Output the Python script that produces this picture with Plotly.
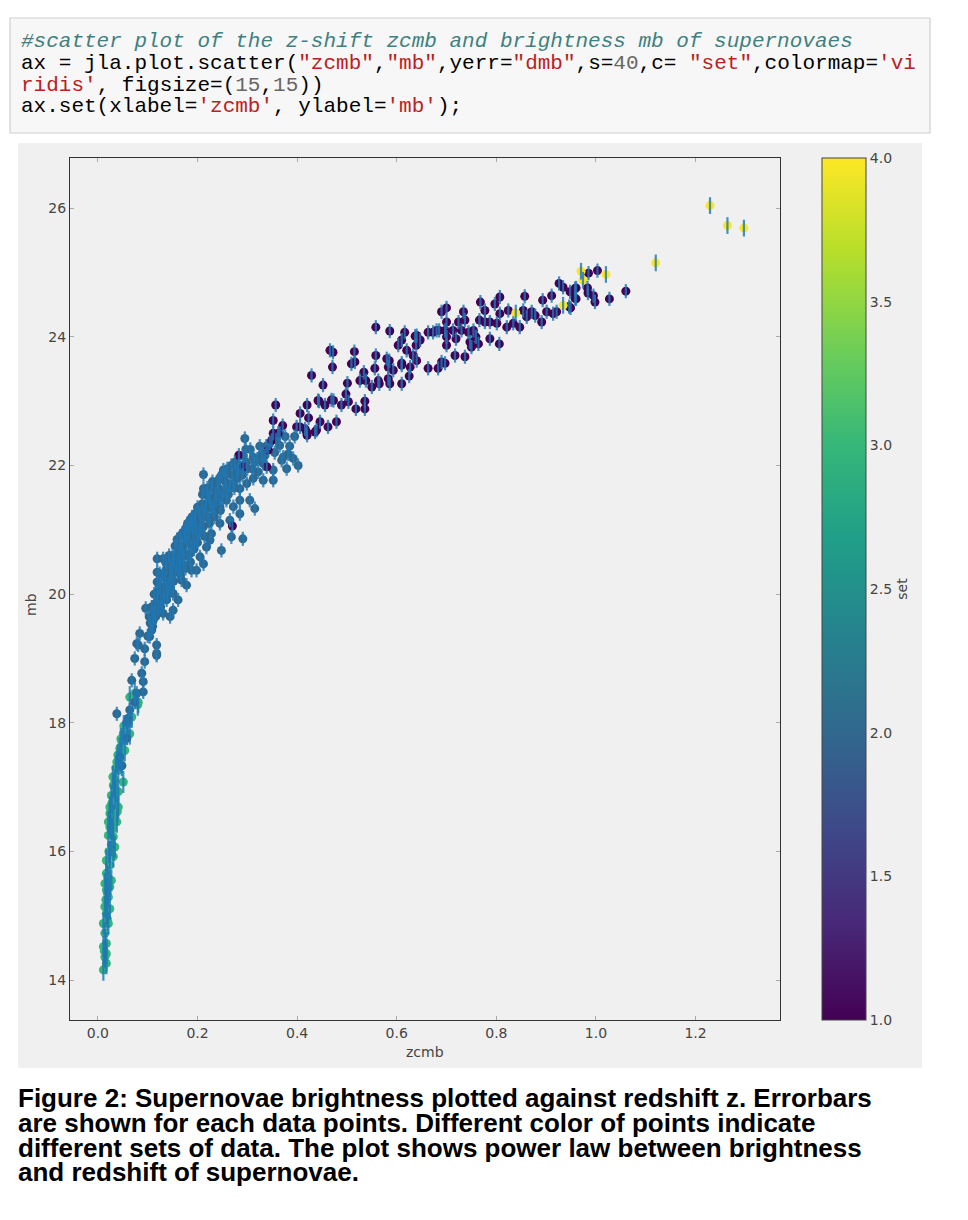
import plotly.graph_objects as go

# ---------------- data ----------------
# set 3 : low-z sample (green)
pts_set3 = [
    (0.011, 14.16), (0.014, 14.36), (0.011, 14.52), (0.017, 14.57), (0.014, 14.73),
    (0.021, 14.88), (0.011, 14.88), (0.017, 15.04), (0.024, 15.11), (0.014, 15.14),
    (0.021, 15.29), (0.017, 15.40), (0.027, 15.55), (0.014, 15.50), (0.017, 15.66),
    (0.024, 15.79), (0.017, 15.86), (0.031, 15.92), (0.024, 15.99), (0.027, 16.10),
    (0.031, 16.23), (0.021, 16.25), (0.024, 16.38), (0.038, 16.46), (0.021, 16.46),
    (0.031, 16.56), (0.024, 16.69), (0.041, 16.69), (0.034, 16.82), (0.027, 16.87),
    (0.041, 16.93), (0.031, 17.03), (0.051, 17.08), (0.030, 17.16), (0.041, 17.26),
    (0.038, 17.39), (0.044, 17.42), (0.044, 17.60), (0.054, 17.57), (0.048, 17.70),
    (0.058, 17.83), (0.064, 17.83), (0.051, 17.83), (0.061, 17.99), (0.068, 18.09),
    (0.081, 18.32), (0.074, 18.46), (0.017, 14.26), (0.017, 14.41), (0.024, 15.45),
    (0.034, 16.07), (0.039, 16.62), (0.024, 16.59), (0.034, 17.11), (0.048, 17.34),
    (0.064, 18.40), (0.080, 18.28), (0.013, 14.45), (0.019, 14.95), (0.016, 15.25),
    (0.020, 15.60), (0.022, 16.00), (0.026, 16.40), (0.028, 16.75), (0.033, 17.00),
    (0.036, 17.30), (0.040, 17.50), (0.046, 17.75), (0.052, 17.95), (0.019, 15.35),
    (0.029, 16.35), (0.036, 16.95),
]
dmb_set3 = 0.17

# set 2 : SDSS sample (blue)
pts_set2 = [
    (0.295, 22.42), (0.297, 22.25), (0.312, 22.13), (0.329, 22.18), (0.332, 22.03),
    (0.376, 22.45), (0.365, 22.31), (0.382, 22.18), (0.392, 22.11), (0.402, 22.00),
    (0.369, 22.08), (0.352, 21.93), (0.252, 21.93), (0.279, 21.90), (0.322, 21.90),
    (0.372, 22.13), (0.379, 21.95), (0.352, 21.77), (0.244, 21.80), (0.212, 21.86),
    (0.212, 21.64), (0.222, 21.51), (0.258, 21.64), (0.272, 21.72), (0.285, 21.64),
    (0.299, 21.72), (0.312, 21.80), (0.332, 21.77), (0.315, 21.33), (0.305, 21.46),
    (0.285, 21.46), (0.272, 21.36), (0.258, 21.46), (0.245, 21.36), (0.232, 21.30),
    (0.285, 21.25), (0.265, 21.15), (0.245, 21.10), (0.268, 20.89), (0.291, 20.86),
    (0.248, 20.68), (0.228, 20.94), (0.212, 21.23), (0.195, 21.15), (0.178, 21.04),
    (0.175, 20.89), (0.168, 20.73), (0.198, 20.84), (0.218, 20.73), (0.205, 20.58),
    (0.185, 20.63), (0.188, 20.37), (0.165, 20.42), (0.151, 20.53), (0.119, 20.55),
    (0.131, 20.55), (0.119, 20.34), (0.145, 20.32), (0.168, 20.22), (0.119, 20.19),
    (0.138, 20.14), (0.151, 20.01), (0.119, 20.03), (0.138, 19.91), (0.151, 19.75),
    (0.131, 19.70), (0.096, 19.78), (0.111, 19.59), (0.108, 19.44), (0.084, 19.39),
    (0.078, 19.23), (0.094, 19.15), (0.074, 19.00), (0.094, 18.95), (0.118, 19.05),
    (0.068, 18.66), (0.091, 18.64), (0.078, 18.46), (0.165, 20.76), (0.178, 20.99),
    (0.188, 21.07), (0.225, 20.84), (0.212, 20.47), (0.198, 20.37), (0.178, 20.14),
    (0.161, 19.91), (0.145, 19.65), (0.124, 20.32), (0.121, 19.78), (0.104, 19.34),
    (0.118, 19.21), (0.118, 19.08), (0.081, 19.21), (0.088, 18.77), (0.091, 18.48),
    (0.038, 18.14), (0.064, 18.20), (0.074, 18.32), (0.058, 18.01), (0.048, 17.33),
    (0.044, 17.47), (0.061, 18.07), (0.058, 17.76),
    (0.105, 19.55), (0.112, 19.70), (0.115, 19.85), (0.120, 19.95), (0.125, 20.10),
    (0.128, 19.90), (0.132, 20.05), (0.135, 20.25), (0.138, 20.40), (0.142, 20.15),
    (0.145, 20.45), (0.148, 20.30), (0.150, 20.60), (0.152, 20.20), (0.155, 20.75),
    (0.158, 20.45), (0.160, 20.65), (0.162, 20.35), (0.165, 20.90), (0.168, 20.55),
    (0.170, 20.70), (0.172, 20.45), (0.175, 21.00), (0.178, 20.80), (0.180, 20.60),
    (0.183, 20.95), (0.185, 21.15), (0.188, 20.75), (0.190, 21.05), (0.192, 20.90),
    (0.195, 21.25), (0.198, 21.00), (0.200, 21.35), (0.203, 20.95), (0.206, 21.15),
    (0.209, 21.40), (0.212, 21.05), (0.215, 21.30), (0.218, 21.55), (0.221, 21.20),
    (0.225, 21.45), (0.228, 21.65), (0.232, 21.35), (0.236, 21.55), (0.240, 21.75),
    (0.244, 21.50), (0.248, 21.85), (0.252, 21.60), (0.256, 21.75), (0.260, 21.95),
    (0.265, 21.70), (0.270, 21.85), (0.275, 22.05), (0.280, 21.80), (0.286, 22.00),
    (0.292, 22.15), (0.300, 21.95), (0.306, 22.25), (0.315, 22.05), (0.325, 22.30),
    (0.335, 22.15), (0.345, 22.35), (0.355, 22.20), (0.365, 22.50), (0.385, 22.30),
    (0.395, 22.45),
    (0.100, 19.35), (0.103, 19.65), (0.108, 19.80), (0.110, 19.50), (0.113, 20.00),
    (0.116, 19.65), (0.122, 20.15), (0.126, 19.80), (0.130, 20.30), (0.133, 19.95),
    (0.136, 20.50), (0.140, 20.00), (0.143, 20.60), (0.146, 20.10), (0.149, 20.40),
    (0.153, 20.55), (0.156, 20.35), (0.159, 20.85), (0.163, 20.55), (0.166, 20.30),
    (0.170, 20.95), (0.173, 20.60), (0.176, 20.40), (0.180, 21.10), (0.182, 20.85),
    (0.186, 20.50), (0.189, 21.20), (0.193, 20.70), (0.196, 21.05), (0.200, 20.80),
    (0.204, 21.25), (0.207, 21.00), (0.210, 21.55), (0.214, 20.90), (0.217, 21.40),
    (0.220, 21.65), (0.224, 21.10), (0.227, 21.35), (0.230, 21.75), (0.234, 21.20),
    (0.238, 21.45), (0.242, 21.65), (0.246, 21.30), (0.250, 21.50), (0.255, 21.85),
    (0.262, 21.55), (0.268, 22.00), (0.274, 21.65), (0.282, 21.95), (0.290, 21.85),
    (0.298, 22.05), (0.310, 21.95), (0.320, 22.10), (0.338, 22.30), (0.358, 22.40),
]
dmb_set2 = 0.11

# set 1 : SNLS sample (dark purple)
pts_set1 = [
    (0.616, 24.07), (0.610, 23.95), (0.637, 24.01), (0.647, 23.95), (0.639, 23.87),
    (0.620, 23.79), (0.633, 23.71), (0.610, 23.59), (0.640, 23.63), (0.627, 23.53),
    (0.625, 23.39), (0.663, 23.51), (0.683, 23.51), (0.690, 23.61), (0.697, 23.59),
    (0.663, 24.07), (0.673, 24.07), (0.685, 24.10), (0.697, 24.10), (0.700, 24.23),
    (0.690, 24.39), (0.700, 24.45), (0.700, 24.00), (0.700, 23.87), (0.717, 23.71),
    (0.719, 23.97), (0.724, 24.23), (0.734, 24.39), (0.737, 24.26), (0.730, 24.10),
    (0.737, 23.69), (0.744, 24.07), (0.747, 23.92), (0.750, 23.84), (0.754, 24.10),
    (0.759, 24.00), (0.766, 24.26), (0.768, 24.54), (0.777, 24.41), (0.764, 23.89),
    (0.787, 23.97), (0.787, 24.23), (0.797, 24.51), (0.807, 24.62), (0.801, 24.21),
    (0.806, 23.89), (0.807, 24.36), (0.821, 24.15), (0.824, 24.41), (0.834, 24.21),
    (0.847, 24.15), (0.857, 24.63), (0.854, 24.41), (0.861, 24.31), (0.871, 24.39),
    (0.878, 24.33), (0.891, 24.23), (0.893, 24.57), (0.901, 24.39), (0.911, 24.64),
    (0.914, 24.36), (0.926, 24.83), (0.934, 24.77), (0.921, 24.39), (0.948, 24.70),
    (0.949, 24.45), (0.960, 24.76), (0.960, 24.59), (0.985, 24.99), (1.003, 25.03),
    (0.983, 24.76), (0.995, 24.64), (0.998, 24.54), (1.027, 24.59), (0.680, 24.10),
    (0.713, 24.10), (0.777, 24.23), (1.060, 24.71), (0.984, 24.68), (0.958, 24.75),
    (0.958, 24.60), (0.946, 24.47),
    (0.558, 24.15), (0.586, 24.09), (0.640, 24.02), (0.603, 23.87), (0.466, 23.79),
    (0.472, 23.76), (0.515, 23.77), (0.471, 23.53), (0.509, 23.58), (0.516, 23.61),
    (0.558, 23.71), (0.580, 23.66), (0.583, 23.53), (0.593, 23.48), (0.610, 23.56),
    (0.556, 23.51), (0.534, 23.45), (0.526, 23.32), (0.538, 23.32), (0.550, 23.22),
    (0.565, 23.27), (0.586, 23.27), (0.610, 23.27), (0.501, 23.28), (0.429, 23.40),
    (0.452, 23.25), (0.498, 23.11), (0.536, 23.00), (0.518, 22.88), (0.536, 22.88),
    (0.503, 22.99), (0.489, 22.94), (0.473, 23.01), (0.456, 22.94), (0.444, 23.00),
    (0.420, 22.94), (0.406, 22.81), (0.423, 22.74), (0.446, 22.68), (0.479, 22.68),
    (0.406, 22.60), (0.420, 22.47), (0.439, 22.55), (0.462, 22.60), (0.357, 22.94),
    (0.352, 22.70), (0.371, 22.62), (0.352, 22.50), (0.349, 22.39), (0.362, 22.50),
    (0.342, 22.24), (0.283, 22.16), (0.292, 21.98), (0.339, 21.98), (0.585, 23.63),
    (0.563, 23.32), (0.583, 23.35), (0.416, 22.57), (0.469, 23.02), (0.442, 23.01),
    (0.399, 22.60), (0.419, 22.52), (0.436, 22.52), (0.270, 21.06),
]
dmb_set1 = 0.11

# set 4 : HST sample (yellow)
pts_set4 = [
    (0.839, 24.37), (0.934, 24.49), (0.970, 25.02), (0.974, 24.88), (1.020, 24.97),
    (1.120, 25.15), (1.229, 26.04), (1.264, 25.73), (1.297, 25.69),
]
dmb_set4 = 0.13

x_ticks = [0.0, 0.2, 0.4, 0.6, 0.8, 1.0, 1.2]
y_ticks = [14, 16, 18, 20, 22, 24, 26]
cb_ticks = [1.0, 1.5, 2.0, 2.5, 3.0, 3.5, 4.0]

# ---------------- assemble ----------------
groups = [(3, pts_set3, dmb_set3), (2, pts_set2, dmb_set2),
          (1, pts_set1, dmb_set1), (4, pts_set4, dmb_set4)]
zs, mbs, sets, errs = [], [], [], []
for s_, pts, d in groups:
    for z, m in pts:
        zs.append(z)
        mbs.append(m)
        sets.append(s_)
        errs.append(d)

# page has an 8px body margin: work in page pixels, convert to figure pixels
OFF = 8
W, H = 968 - 2 * OFF, 1220 - 2 * OFF
L, R, T, B = 70, 780, 158, 1020   # plot area, page pixels


def px(xp):
    return (xp - L) / (R - L)


def py(yp):
    return (B - yp) / (B - T)


fig = go.Figure()
fig.add_trace(go.Scatter(
    x=zs, y=mbs, mode="markers", showlegend=False, hoverinfo="skip",
    marker=dict(
        size=9, color=sets, colorscale="Viridis", cmin=1, cmax=4,
        line=dict(width=0),
        colorbar=dict(
            x=px(822), xanchor="left", xpad=0, ypad=0,
            y=0.5, yanchor="middle", len=1, lenmode="fraction",
            thickness=44, thicknessmode="pixels",
            outlinewidth=1, outlinecolor="#444444",
            tickmode="array", tickvals=cb_ticks,
            ticktext=[f"{v:.1f}" for v in cb_ticks],
            ticks="", tickfont=dict(family="DejaVu Sans", size=14, color="#444444"),
            title=dict(text="set", side="right",
                       font=dict(family="DejaVu Sans", size=14, color="#444444")),
        ),
    ),
))
fig.add_trace(go.Scatter(
    x=zs, y=mbs, mode="markers", showlegend=False, hoverinfo="skip",
    marker=dict(size=1, opacity=0),
    error_y=dict(type="data", array=errs, visible=True, width=0,
                 thickness=2.2, color="rgba(31,119,180,0.82)"),
))

axis_common = dict(
    showline=True, linecolor="#333333", linewidth=1, mirror="allticks",
    ticks="inside", ticklen=4, tickcolor="#aaaaaa", tickwidth=1,
    showgrid=False, zeroline=False,
    tickfont=dict(family="DejaVu Sans", size=14, color="#444444"),
)
fig.update_xaxes(range=[-0.056, 1.3695], tickmode="array", tickvals=x_ticks,
                 ticktext=[f"{v:.1f}" for v in x_ticks], **axis_common)
fig.update_yaxes(range=[13.38, 26.78], tickmode="array", tickvals=y_ticks,
                 ticktext=[str(v) for v in y_ticks], **axis_common)

shapes = [
    # figure (matplotlib) background
    dict(type="rect", xref="paper", yref="paper", layer="below",
         x0=px(18), x1=px(922), y0=py(1068), y1=py(143),
         fillcolor="#f0f0f0", line=dict(width=0)),
    # code cell
    dict(type="rect", xref="paper", yref="paper", layer="below",
         x0=px(10), x1=px(930), y0=py(133), y1=py(18),
         fillcolor="#f7f7f7", line=dict(width=1.2, color="#cfcfcf")),
]

C_COM = "#408080"
C_STR = "#ba2121"
C_NUM = "#666666"
C_TXT = "#000000"


def s(t, c):
    return f"<span style='color:{c}'>{t}</span>"


code_lines = [
    s("<i>#scatter plot of the z-shift zcmb and brightness mb of supernovaes</i>", C_COM),
    "ax = jla.plot.scatter(" + s('"zcmb"', C_STR) + "," + s('"mb"', C_STR) + ",yerr="
    + s('"dmb"', C_STR) + ",s=" + s("40", C_NUM) + ",c= " + s('"set"', C_STR)
    + ",colormap=" + s("'vi", C_STR),
    s("ridis'", C_STR) + ", figsize=(" + s("15", C_NUM) + "," + s("15", C_NUM) + "))",
    "ax.set(xlabel=" + s("'zcmb'", C_STR) + ", ylabel=" + s("'mb'", C_STR) + ");",
]
code_y = [42, 63.5, 85, 106.5]

annotations = []
for txt, yy in zip(code_lines, code_y):
    annotations.append(dict(
        text=txt, xref="paper", yref="paper", x=px(19), y=py(yy),
        xanchor="left", yanchor="middle", showarrow=False,
        font=dict(family="Liberation Mono", size=21, color=C_TXT)))

caption = [
    "Figure 2: Supernovae brightness plotted against redshift z. Errorbars",
    "are shown for each data points. Different color of points indicate",
    "different sets of data. The plot shows power law between brightness",
    "and redshift of supernovae.",
]
cap_y = [1098, 1123, 1148, 1172]
for txt, yy in zip(caption, cap_y):
    annotations.append(dict(
        text="<b>" + txt + "</b>", xref="paper", yref="paper", x=px(16), y=py(yy),
        xanchor="left", yanchor="middle", showarrow=False,
        font=dict(family="Liberation Sans", size=26, color="#000000")))

# axis titles
annotations.append(dict(text="zcmb", xref="paper", yref="paper", x=px(425), y=py(1052),
                        xanchor="center", yanchor="middle", showarrow=False,
                        font=dict(family="DejaVu Sans", size=14, color="#444444")))
annotations.append(dict(text="mb", xref="paper", yref="paper", x=px(31), y=py(605),
                        xanchor="center", yanchor="middle", showarrow=False, textangle=-90,
                        font=dict(family="DejaVu Sans", size=14, color="#444444")))

fig.update_layout(
    width=W, height=H, autosize=False,
    margin=dict(l=L - OFF, r=W - (R - OFF), t=T - OFF, b=H - (B - OFF), pad=0),
    paper_bgcolor="#ffffff", plot_bgcolor="#f0f0f0",
    shapes=shapes, annotations=annotations,
    font=dict(family="DejaVu Sans"),
)

fig.write_html("out.html")
